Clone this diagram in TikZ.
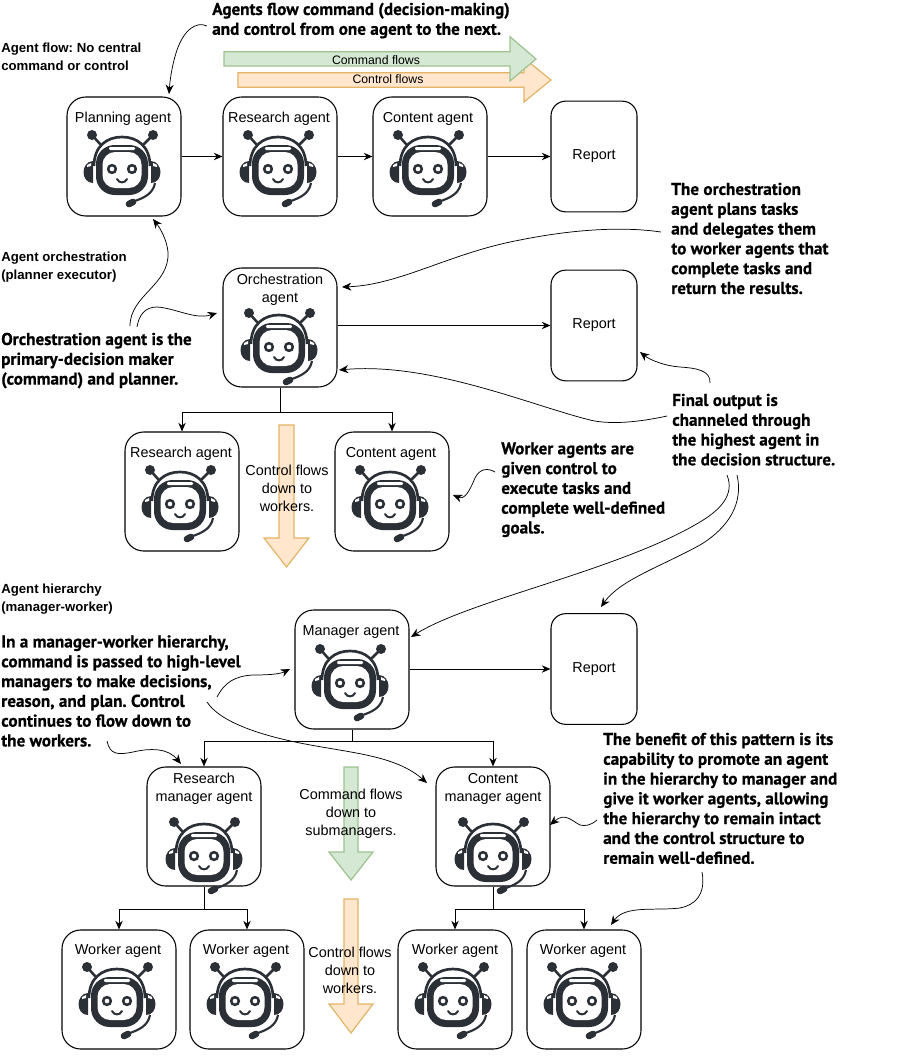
\documentclass[tikz,border=0pt]{standalone}
\usepackage{fontspec}
\setmainfont{Liberation Sans}
\newfontfamily\calloutfont[BoldFeatures={FakeBold=0.6}]{PT Sans}
\usetikzlibrary{arrows.meta,calc}
\definecolor{robotink}{HTML}{2B2F36}
\definecolor{greenfill}{HTML}{D5E8D4}
\definecolor{greenline}{HTML}{9CC28E}
\definecolor{orangefill}{HTML}{FFE6CC}
\definecolor{orangeline}{HTML}{E3B466}
\frenchspacing
\tikzset{
  x=0.75pt,y=-0.75pt,
  agentbox/.style={draw,line width=0.8pt,rounded corners=14pt,minimum width=85.5pt,minimum height=89.25pt,inner sep=0pt},
  reportbox/.style={draw,line width=0.8pt,rounded corners=11pt,minimum width=64.5pt,minimum height=83pt,inner sep=0pt,font=\fontsize{10.8}{13}\selectfont},
  agentlabel/.style={font=\fontsize{10.8}{13.5}\selectfont,align=center,inner sep=0pt},
  flowlabel/.style={font=\fontsize{10.8}{13.5}\selectfont,align=center,inner sep=0pt},
  smalllabel/.style={font=\fontsize{9.2}{11}\selectfont,align=center,inner sep=0pt},
  heading/.style={font=\fontsize{9.9}{13.3}\selectfont\bfseries,align=left,anchor=north west,inner sep=0pt},
  callout/.style={font=\calloutfont\fontsize{12.85}{14.85}\selectfont\bfseries,align=left,anchor=north west,inner sep=0pt},
  link/.style={-{Stealth[length=6.5pt,width=5.5pt]},line width=0.75pt},
  thread/.style={-{Stealth[length=7pt,width=6pt]},line width=0.55pt},
  greenflow/.style={fill=greenfill,draw=greenline,line width=0.9pt},
  orangeflow/.style={fill=orangefill,draw=orangeline,line width=0.9pt},
  robot/.pic={
    \draw[robotink,line width=1.9pt,line cap=round] (-22,-24) -- (-30,-33) (22,-24) -- (31,-33);
    \fill[robotink] (-30,-33) circle[radius=5] (31,-33) circle[radius=5];
    \draw[robotink,line width=2pt] (-28,-2) .. controls (-28,-22) and (-15,-31) .. (0,-31) .. controls (15,-31) and (28,-22) .. (28,-2);
    \fill[robotink] (-29,-7) .. controls (-35,-7) and (-38.5,-1) .. (-38.5,4) .. controls (-38.5,10) and (-35,15) .. (-29,15) -- cycle;
    \fill[robotink] (29,-7) .. controls (35,-7) and (38.5,-1) .. (38.5,4) .. controls (38.5,10) and (35,15) .. (29,15) -- cycle;
    \fill[white] (-35,-3) -- (-31,-5) -- (-31,-2) -- (-35,-1) -- cycle (35,-3) -- (31,-5) -- (31,-2) -- (35,-1) -- cycle;
    \fill[robotink,rounded corners=14pt] (-26,-23) rectangle (26,27);
    \fill[white,rounded corners=9.5pt] (-19.5,-16) rectangle (19.5,20);
    \fill[white,rounded corners=0.8pt] (-13,-21) rectangle (13,-18);
    \fill[robotink] (-10,1) circle[radius=5.2] (10,1) circle[radius=5.2];
    \fill[white] (-10,1) circle[radius=2.3] (10,1) circle[radius=2.3];
    \draw[robotink,line width=1.5pt,line cap=round] (-5,11) .. controls (-3,15.5) and (3,15.5) .. (5,11);
    \draw[robotink,line width=1.6pt] (33,15) .. controls (31,26) and (22,30) .. (10,34);
    \draw[robotink,line width=5pt,line cap=round] (11,34) -- (7,36);
  }
}
\begin{document}
\begin{tikzpicture}
\useasboundingbox (0,0) rectangle (913,1056);
% block arrows
\path[orangeflow] (238,72.7) -- (524,72.7) -- (524,58) -- (551,80) -- (524,102) -- (524,87.3) -- (238,87.3) -- cycle;
\path[greenflow] (224,51.7) -- (510,51.7) -- (510,36.7) -- (536,59) -- (510,81) -- (510,66) -- (224,66) -- cycle;
\path[orangeflow] (279,425) -- (294,425) -- (294,538) -- (309,538) -- (286.5,567) -- (264,538) -- (279,538) -- cycle;
\path[greenflow] (344,767) -- (358,767) -- (358,852) -- (373,852) -- (351,880) -- (329,852) -- (344,852) -- cycle;
\path[orangeflow] (344,899) -- (358,899) -- (358,1004) -- (373,1004) -- (351,1033) -- (329,1004) -- (344,1004) -- cycle;
% boxes
\node[agentbox] (plan) at (124,156.5) {};
\node[agentbox] (res1) at (280,156.5) {};
\node[agentbox] (con1) at (430,156.5) {};
\node[reportbox] (rep1) at (594,156.5) {\raisebox{-1pt}{Report}};
\node[agentbox] (orch) at (280,327.5) {};
\node[reportbox] (rep2) at (594,325.5) {\raisebox{-1pt}{Report}};
\node[agentbox] (res2) at (182,491.5) {};
\node[agentbox] (con2) at (392,491.5) {};
\node[agentbox] (mgr) at (352,669.5) {};
\node[reportbox] (rep3) at (594,669) {\raisebox{-1pt}{Report}};
\node[agentbox] (rmgr) at (204,826.5) {};
\node[agentbox] (cmgr) at (493,826.5) {};
\node[agentbox] (w1) at (119,989.5) {};
\node[agentbox] (w2) at (247,989.5) {};
\node[agentbox] (w3) at (455,989.5) {};
\node[agentbox] (w4) at (584,989.5) {};
% robots
\foreach \cx/\cy in {122/168,278/168,428/168,279/346,180/503,390/503,350/682,204/855,493/855,117/1000,245/1000,453/1000,582/1000}
  \pic at (\cx,\cy) {robot};
% labels
\node[agentlabel] (lplan) at (123,119) {Planning agent};
\node[agentlabel] (lres1) at (279,119) {Research agent};
\node[agentlabel] (lcon1) at (428,119) {Content agent};
\node[agentlabel] (lorch) at (280,290) {Orchestration\\agent};
\node[agentlabel] (lres2) at (181,454) {Research agent};
\node[agentlabel] (lcon2) at (391,454) {Content agent};
\node[agentlabel] (lmgr) at (351,632) {Manager agent};
\node[agentlabel] (lrmgr) at (204,789) {Research\\manager agent};
\node[agentlabel] (lcmgr) at (493,789) {Content\\manager agent};
\node[agentlabel] (lw1) at (118,951) {Worker agent};
\node[agentlabel] (lw2) at (246,951) {Worker agent};
\node[agentlabel] (lw3) at (455,951) {Worker agent};
\node[agentlabel] (lw4) at (583,951) {Worker agent};
\node[smalllabel] (cmdflow) at (376,60) {Command flows};
\node[smalllabel] (ctlflow) at (388,79) {Control flows};
\node[flowlabel] (fl1) at (287,488) {Control flows\\down to\\workers.};
\node[flowlabel] (fl2) at (351,814) {Command flows\\down to\\submanagers.};
\node[flowlabel] (fl3) at (350,970) {Control flows\\down to\\workers.};
% headings
\node[heading] (h1) at (1,43) {Agent flow: No central\\command or control};
\node[heading] (h2) at (1,252) {Agent orchestration\\(planner executor)};
\node[heading] (h3) at (1,584) {Agent hierarchy\\(manager-worker)};
% callouts
\node[callout] (t1) at (212,2.5) {Agents flow command (decision-making)\\and control from one agent to the next.};
\node[callout] (t2) at (671,182.5) {The orchestration\\agent plans tasks\\and delegates them\\to worker agents that\\complete tasks and\\return the results.};
\node[callout] (t3) at (672,393.5) {Final output is\\channeled through\\the highest agent in\\the decision structure.};
\node[callout] (t4) at (501,442) {Worker agents are\\given control to\\execute tasks and\\complete well-defined\\goals.};
\node[callout] (t5) at (1,332.5) {Orchestration agent is the\\primary-decision maker\\(command) and planner.};
\node[callout] (t6) at (1,635) {In a manager-worker hierarchy,\\command is passed to high-level\\managers to make decisions,\\reason, and plan. Control\\continues to flow down to\\the workers.};
\node[callout] (t7) at (603,732.5) {The benefit of this pattern is its\\capability to promote an agent\\in the hierarchy to manager and\\give it worker agents, allowing\\the hierarchy to remain intact\\and the control structure to\\remain well-defined.};
% flow connectors
\draw[link] (plan) -- (res1);
\draw[link] (res1) -- (con1);
\draw[link] (con1) -- (rep1);
\draw[link] (orch.east |- rep2) -- (rep2);
\draw[link] (orch.south) -- ++(0,25) -| (res2.north);
\draw[link] (orch.south) -- ++(0,25) -| (con2.north);
\draw[link] (mgr.east |- rep3) -- (rep3);
\draw[link] (mgr.south) -- ++(0,12) -| (rmgr.north);
\draw[link] (mgr.south) -- ++(0,12) -| (cmgr.north);
\draw[link] (rmgr.south) -- ++(0,23) -| (w1.north);
\draw[link] (rmgr.south) -- ++(0,23) -| (w2.north);
\draw[link] (cmgr.south) -- ++(0,23) -| (w3.north);
\draw[link] (cmgr.south) -- ++(0,23) -| (w4.north);
% callout threads
\coordinate (a1) at (207,26); \coordinate (b1) at (169,94);
\draw[thread] (a1) .. controls (196,21) and (184,30) .. (177,50) .. controls (172,65) and (170,80) .. (b1);
\coordinate (a2) at (130,326); \coordinate (b2) at (153,219);
\draw[thread] (a2) .. controls (130,295) and (170,285) .. (168,252) .. controls (167,240) and (160,228) .. (b2);
\coordinate (a3) at (137,327); \coordinate (b3) at (217,313);
\draw[thread] (a3) .. controls (139,315) and (145,307) .. (157,307) .. controls (175,308) and (195,320) .. (b3);
\coordinate (a4) at (661,232); \coordinate (b4) at (342,287);
\draw[thread] (a4) .. controls (620,226) and (570,230) .. (520,240) .. controls (450,253) and (400,285) .. (b4);
\coordinate (a5) at (710,383); \coordinate (b5) at (640,352);
\draw[thread] (a5) .. controls (711,370) and (695,368) .. (680,367) .. controls (665,366) and (650,360) .. (b5);
\coordinate (a6) at (667,416); \coordinate (b6) at (339,370);
\draw[thread] (a6) .. controls (640,422) and (610,425) .. (590,420) .. controls (530,405) and (430,362) .. (b6);
\coordinate (a7) at (727,475); \coordinate (b7) at (411,637);
\draw[thread] (a7) .. controls (735,495) and (720,510) .. (700,522) .. controls (620,570) and (470,600) .. (b7);
\coordinate (a8) at (737,475); \coordinate (b8) at (601,607);
\draw[thread] (a8) .. controls (745,510) and (720,533) .. (700,545) .. controls (660,567) and (620,580) .. (b8);
\coordinate (a9) at (495,472); \coordinate (b9) at (453,495);
\draw[thread] (a9) .. controls (488,468) and (480,468) .. (475,478) .. controls (470,490) and (465,500) .. (b9);
\coordinate (a10) at (217,697); \coordinate (b10) at (290,669);
\draw[thread] (a10) .. controls (225,682) and (235,676) .. (253,675) .. controls (270,675) and (280,674) .. (b10);
\coordinate (a11) at (207,702); \coordinate (b11) at (427,783);
\draw[thread] (a11) .. controls (220,722) and (260,735) .. (300,743) .. controls (350,753) and (395,755) .. (b11);
\coordinate (a12) at (107,741); \coordinate (b12) at (181,764);
\draw[thread] (a12) .. controls (110,755) and (118,755) .. (133,752) .. controls (150,748) and (168,748) .. (b12);
\coordinate (a13) at (597,820); \coordinate (b13) at (550,825);
\draw[thread] (a13) .. controls (590,826) and (585,826) .. (580,825) .. controls (572,821) and (565,812) .. (b13);
\coordinate (a14) at (702,872); \coordinate (b14) at (611,925);
\draw[thread] (a14) .. controls (706,895) and (695,905) .. (680,908) .. controls (655,911) and (625,905) .. (b14);
\end{tikzpicture}
\end{document}
